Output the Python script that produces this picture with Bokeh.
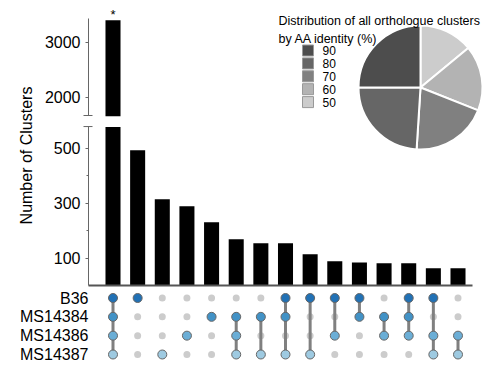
import numpy as np
from bokeh.plotting import figure
from bokeh.models import Range1d, LinearAxis, FixedTicker, Label, ColumnDataSource
from bokeh.core.properties import value
from bokeh.embed import file_html
from bokeh.resources import INLINE

# ---------------- data ----------------
sets = ["B36", "MS14384", "MS14386", "MS14387"]
set_colors = ["#2171b5", "#4292c6", "#6baed6", "#9ecae1"]
counts = [3400, 492, 314, 288, 230, 168, 154, 154, 114, 88, 84, 81, 81, 63, 63]
memb_B36 = [1, 1, 0, 0, 0, 0, 0, 1, 1, 1, 1, 0, 1, 1, 0]
memb_MS14384 = [1, 0, 0, 0, 1, 1, 1, 1, 0, 0, 1, 1, 1, 0, 0]
memb_MS14386 = [1, 0, 0, 1, 0, 1, 0, 0, 0, 1, 0, 1, 1, 1, 1]
memb_MS14387 = [1, 0, 1, 0, 0, 1, 1, 1, 1, 0, 0, 0, 0, 1, 1]
identity_labels = ["90", "80", "70", "60", "50"]
identity_share = [25, 24, 20, 17, 14]
identity_colors = ["#4d4d4d", "#666666", "#808080", "#b3b3b3", "#cccccc"]
low_ticks = [100, 300, 500]
low_minor = [200, 400]
up_ticks = [2000, 3000]

# ---------------- layout helpers ----------------
W, H = 486, 366
FONT = "Liberation Sans"


def rng(p1, v1, p2, v2, L):
    k = (v2 - v1) / (p2 - p1)
    return Range1d(start=v1 - p1 * k, end=v1 + (L - p1) * k)


C0, C14 = 112.5, 457.5
STEP = (C14 - C0) / 14.0


def x_at(px):
    return (px - C0) / STEP


x_range = rng(C0, 0, C14, 14, W)
low_range = rng(81, 0, 218.5, 500, H)
up_range = rng(269.3, 2000, 324.3, 3000, H)
mat_range = rng(68.5, 0, 12.0, 3, H)
LOW_TOP, UP_BOTTOM = 576, 1655

p = figure(width=W, height=H, output_backend="svg", toolbar_location=None,
           x_range=x_range, y_range=low_range, x_axis_type=None,
           y_axis_type=None, min_border=0, outline_line_color=None)
p.extra_y_ranges = {"up": up_range, "mat": mat_range,
                    "py": Range1d(-279, 87)}
p.extra_x_ranges = {"px": Range1d(-420, 66)}

cols = list(range(len(counts)))
cnt = np.array(counts, dtype=float)

# bars (lower segment)
p.vbar(x=cols, top=np.minimum(cnt, LOW_TOP), bottom=0, width=0.61,
       fill_color="black", line_color=None)
# bars (upper segment)
big = [i for i in cols if counts[i] > UP_BOTTOM]
p.vbar(x=big, top=[counts[i] for i in big], bottom=UP_BOTTOM, width=0.61,
       fill_color="black", line_color=None, y_range_name="up")
p.text(x=big, y=[counts[i] for i in big], text=["*"] * len(big),
       y_range_name="up", text_align="center", text_baseline="bottom",
       text_font=value(FONT), text_font_size="13px", y_offset=2,
       text_color="black")

AX = x_at(88)
axis_style = dict(axis_line_color="#666666", major_tick_line_color="#666666",
                  minor_tick_line_color="#666666", major_tick_out=3,
                  major_tick_in=0, minor_tick_out=2, minor_tick_in=0,
                  major_label_text_font_size="16px",
                  major_label_text_font=FONT, major_label_standoff=5,
                  major_label_text_color="black", fixed_location=AX)
low_axis = LinearAxis(ticker=FixedTicker(ticks=low_ticks, minor_ticks=low_minor),
                      bounds=(0, 578), **axis_style)
up_axis = LinearAxis(y_range_name="up", ticker=FixedTicker(ticks=up_ticks),
                     bounds=(1667, 3431), **axis_style)
p.add_layout(low_axis, "left")
p.add_layout(up_axis, "left")

# break caps
p.segment(x0=[x_at(83)], x1=[x_at(92)], y0=[578], y1=[578],
          line_color="#666666", line_width=1)
p.segment(x0=[x_at(83)], x1=[x_at(92)], y0=[1667], y1=[1667],
          line_color="#666666", line_width=1, y_range_name="up")

x_axis = LinearAxis(fixed_location=0, bounds=(x_at(88), x_at(472)),
                    ticker=FixedTicker(ticks=[]), axis_line_width=2,
                    axis_line_color="#555555", major_tick_line_color=None,
                    minor_tick_line_color=None,
                    major_label_text_font_size="0px")
p.add_layout(x_axis, "below")

# ---------------- matrix ----------------
members = [memb_B36, memb_MS14384, memb_MS14386, memb_MS14387]
gx, gy, cx, cy, cc = [], [], [], [], []
sx, sy0, sy1 = [], [], []
for c in cols:
    rows_in = [r for r in range(len(sets)) if members[r][c]]
    for r in range(len(sets)):
        if members[r][c]:
            cx.append(c); cy.append(r); cc.append(set_colors[r])
        else:
            gx.append(c); gy.append(r)
    if len(rows_in) > 1:
        sx.append(c); sy0.append(min(rows_in)); sy1.append(max(rows_in))

p.scatter(x=gx, y=gy, size=7, fill_color="#cccccc", line_color=None,
          y_range_name="mat")
p.segment(x0=sx, x1=sx, y0=sy0, y1=sy1, line_color="#808080", line_width=3,
          y_range_name="mat")
p.scatter(x=cx, y=cy, size=9, fill_color=cc, line_color="#666666",
          line_width=1, y_range_name="mat")

mat_axis = LinearAxis(y_range_name="mat",
                      ticker=FixedTicker(ticks=list(range(len(sets)))),
                      major_label_overrides={i: s for i, s in enumerate(sets)},
                      fixed_location=x_at(90), axis_line_color=None,
                      major_tick_line_color=None, minor_tick_line_color=None,
                      major_tick_out=0, major_tick_in=0,
                      major_label_standoff=2, major_label_text_font=FONT,
                      major_label_text_font_size="16px",
                      major_label_text_color="black")
p.add_layout(mat_axis, "left")

# ---------------- pie ----------------
share_cw = np.array(identity_share[::-1], dtype=float)
cum = np.concatenate([[0], np.cumsum(share_cw)]) / share_cw.sum() * 2 * np.pi
pie_src = ColumnDataSource(dict(
    start=np.pi / 2 - cum[1:], end=np.pi / 2 - cum[:-1],
    color=identity_colors[::-1]))
p.wedge(x=0, y=0, radius=62, start_angle="start", end_angle="end",
        fill_color="color", line_color="white", line_width=2,
        x_range_name="px", y_range_name="py", source=pie_src)

# legend (swatches + labels), placed relative to the pie centre
n = len(identity_labels)
leg_y = [37 - 12.9 * i for i in range(n)]
p.rect(x=[-112.5] * n, y=leg_y, width=11, height=11, width_units="screen",
       height_units="screen", fill_color=identity_colors, line_color="#999999",
       line_width=1, x_range_name="px", y_range_name="py")
p.text(x=[-98] * n, y=leg_y, text=identity_labels, text_font=value(FONT),
       text_font_size="12px", text_baseline="middle", text_align="left",
       text_color="black", x_range_name="px", y_range_name="py")

p.add_layout(Label(x=278, y=345.5, x_units="screen", y_units="screen",
                   text="Distribution of all orthologue clusters",
                   text_font=FONT, text_font_size="12.5px",
                   text_baseline="alphabetic", text_color="black"))
p.add_layout(Label(x=278, y=328, x_units="screen", y_units="screen",
                   text="by AA identity (%)", text_font=FONT,
                   text_font_size="12.5px", text_baseline="alphabetic",
                   text_color="black"))
p.add_layout(Label(x=26, y=211, x_units="screen", y_units="screen",
                   angle=np.pi / 2, text="Number of Clusters",
                   text_align="center", text_baseline="middle",
                   text_font=FONT, text_font_size="16px", text_color="black"))

open("out.html", "w").write(file_html(p, INLINE))
